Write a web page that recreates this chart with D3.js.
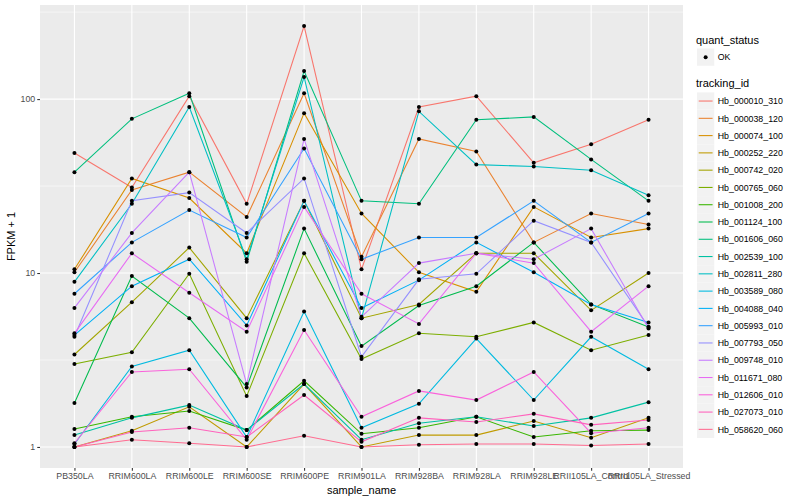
<!DOCTYPE html>
<html lang="en">
<head>
<meta charset="UTF-8">
<title>Expression plot</title>
<style>
  body { margin: 0; background: #fff; }
  svg { font-family: 'Liberation Sans', Arial, sans-serif; }
</style>
<script src="https://cdn.jsdelivr.net/npm/d3@7"></script>
</head>
<body>
<svg id="chart" width="800" height="500"></svg>
<script>
const samples = ["PB350LA", "RRIM600LA", "RRIM600LE", "RRIM600SE", "RRIM600PE", "RRIM901LA",
                 "RRIM928BA", "RRIM928LA", "RRIM928LE", "RRII105LA_Control", "RRII105LA_Stressed"];

const trackingIds = ["Hb_000010_310", "Hb_000038_120", "Hb_000074_100", "Hb_000252_220", "Hb_000742_020",
                     "Hb_000765_060", "Hb_001008_200", "Hb_001124_100", "Hb_001606_060", "Hb_002539_100",
                     "Hb_002811_280", "Hb_003589_080", "Hb_004088_040", "Hb_005993_010", "Hb_007793_050",
                     "Hb_009748_010", "Hb_011671_080", "Hb_012606_010", "Hb_027073_010", "Hb_058620_060"];

// ggplot hue palette, 20 levels
const colors = ["#F8766D", "#EA8331", "#D89000", "#C09B00", "#A3A500", "#7CAE00", "#39B600", "#00BB4E",
                "#00BF7D", "#00C1A3", "#00BFC4", "#00BAE0", "#00B0F6", "#35A2FF", "#9590FF", "#C77CFF",
                "#E76BF3", "#FA62DB", "#FF62BC", "#FF6C91"];

const yTicks = [1, 10, 100];

// FPKM per gene, one value per sample (plotted as FPKM + 1)
const hb000010_310 = [48, 30, 103, 24, 262, 9.5, 89, 103, 42, 54, 75];
const hb000038_120 = [9.1, 29, 37, 20, 107, 11.4, 58, 49, 14, 21, 18];
const hb000074_100 = [9.5, 34, 26, 12, 82, 21, 9.1, 6.8, 23, 15, 17];
const hb000252_220 = [0, 0.24, 0.7, 0, 1.3, 0, 0.17, 0.17, 0.41, 0.13, 0.47];
const hb000742_020 = [2.4, 5.8, 13, 4.5, 25, 4.5, 5.6, 12, 12, 5.1, 9];
const hb000765_060 = [2.0, 2.5, 8.9, 0.96, 12, 2.2, 3.5, 3.3, 4.2, 2.6, 3.4];
const hb001008_200 = [0.27, 0.49, 0.61, 0.25, 1.4, 0.19, 0.29, 0.49, 0.14, 0.24, 0.25];
const hb001124_100 = [0.79, 8.6, 4.5, 1.2, 17, 2.8, 5.5, 7.4, 14, 5.6, 3.9];
const hb001606_060 = [37, 76, 107, 10.6, 144, 25, 24, 75, 78, 44, 25];
const hb002539_100 = [0.17, 0.47, 0.74, 0.25, 1.3, 0.1, 0.37, 0.49, 0.32, 0.47, 0.81];
const hb002811_280 = [7.9, 24, 89, 11, 133, 4.5, 84, 41, 40, 38, 27];
const hb003589_080 = [0.04, 1.9, 2.6, 0.14, 5.0, 0.29, 0.77, 3.2, 0.86, 3.3, 1.8];
const hb004088_040 = [3.4, 7.4, 11, 4.0, 25, 5.3, 8.1, 14, 9.1, 5.6, 4.2];
const hb005993_010 = [6.6, 14, 22, 15, 51, 11, 15, 15, 25, 14, 21];
const hb007793_050 = [3.3, 25, 28, 16, 34, 2.3, 8.2, 8.9, 19, 14, 3.9];
const hb009748_010 = [5.3, 16, 37, 1.3, 58, 4.6, 10.4, 12, 11, 17, 3.8];
const hb011671_080 = [3.5, 12, 6.7, 3.6, 23, 6.6, 4.1, 12, 10.4, 3.6, 7.4];
const hb012606_010 = [0.05, 1.7, 1.8, 0.1, 3.7, 0.49, 1.1, 0.86, 1.7, 0.2, 0.29];
const hb027073_010 = [0, 0.22, 0.29, 0.14, 0.99, 0.07, 0.47, 0.39, 0.55, 0.34, 0.43];
const hb058620_060 = [0, 0.1, 0.05, 0, 0.16, 0, 0.03, 0.04, 0.04, 0.02, 0.04];

const fpkm = [hb000010_310, hb000038_120, hb000074_100, hb000252_220, hb000742_020, hb000765_060,
              hb001008_200, hb001124_100, hb001606_060, hb002539_100, hb002811_280, hb003589_080,
              hb004088_040, hb005993_010, hb007793_050, hb009748_010, hb011671_080, hb012606_010,
              hb027073_010, hb058620_060];

const series = trackingIds.map((id, i) => ({
    id: id,
    color: colors[i],
    values: fpkm[i].map((v, j) => ({ sample: samples[j], y: v + 1 }))
}));

const svg = d3.select("#chart");
const panel = { left: 40, right: 683, top: 5, bottom: 468 };

const x = d3.scalePoint()
    .domain(samples)
    .range([panel.left, panel.right])
    .padding(0.6);

// log10 scale with ggplot's 5% expansion in transformed space
const allY = series.flatMap(s => s.values.map(d => d.y));
const lo = Math.log10(d3.min(allY)), hi = Math.log10(d3.max(allY));
const pad = (hi - lo) * 0.05;
const y = d3.scaleLog()
    .domain([Math.pow(10, lo - pad), Math.pow(10, hi + pad)])
    .range([panel.bottom, panel.top]);

// panel background and grid
svg.append("rect")
    .attr("x", panel.left).attr("y", panel.top)
    .attr("width", panel.right - panel.left).attr("height", panel.bottom - panel.top)
    .attr("fill", "#EBEBEB");

const minorTicks = [Math.pow(10, 0.5), Math.pow(10, 1.5), Math.pow(10, 2.5)];
svg.append("g").selectAll("line")
    .data(minorTicks.filter(t => t > y.domain()[0] && t < y.domain()[1]))
    .enter().append("line")
    .attr("x1", panel.left).attr("x2", panel.right)
    .attr("y1", d => y(d)).attr("y2", d => y(d))
    .attr("stroke", "#fff").attr("stroke-width", 0.55);

svg.append("g").selectAll("line")
    .data(yTicks)
    .enter().append("line")
    .attr("x1", panel.left).attr("x2", panel.right)
    .attr("y1", d => y(d)).attr("y2", d => y(d))
    .attr("stroke", "#fff").attr("stroke-width", 1.1);

svg.append("g").selectAll("line")
    .data(samples)
    .enter().append("line")
    .attr("x1", d => x(d)).attr("x2", d => x(d))
    .attr("y1", panel.top).attr("y2", panel.bottom)
    .attr("stroke", "#fff").attr("stroke-width", 1.1);

// lines
const line = d3.line()
    .x(d => x(d.sample))
    .y(d => y(d.y));

svg.append("g").selectAll("path")
    .data(series)
    .enter().append("path")
    .attr("d", d => line(d.values))
    .attr("fill", "none")
    .attr("stroke", d => d.color)
    .attr("stroke-width", 1.07);

// points
svg.append("g").selectAll("circle")
    .data(series.flatMap(s => s.values))
    .enter().append("circle")
    .attr("cx", d => x(d.sample))
    .attr("cy", d => y(d.y))
    .attr("r", 2)
    .attr("fill", "#000");

// axes
const xAxis = svg.append("g")
    .attr("transform", "translate(0," + panel.bottom + ")")
    .call(d3.axisBottom(x).tickSize(2.75).tickPadding(2));
const yAxis = svg.append("g")
    .attr("transform", "translate(" + panel.left + ",0)")
    .call(d3.axisLeft(y).tickValues(yTicks).tickFormat(d3.format("d")).tickSize(2.75).tickPadding(2));

[xAxis, yAxis].forEach(ax => {
    ax.select(".domain").remove();
    ax.selectAll(".tick line").attr("stroke", "#333333").attr("stroke-width", 1.07);
    ax.selectAll(".tick text")
        .attr("fill", "#4D4D4D")
        .style("font-size", "8.8px")
        .style("font-family", "'Liberation Sans', Arial, sans-serif");
});

svg.append("text")
    .attr("x", (panel.left + panel.right) / 2)
    .attr("y", 494)
    .attr("text-anchor", "middle")
    .style("font-size", "11px")
    .text("sample_name");

svg.append("text")
    .attr("transform", "translate(15," + (panel.top + panel.bottom) / 2 + ") rotate(-90)")
    .attr("text-anchor", "middle")
    .style("font-size", "11px")
    .text("FPKM + 1");

// legends
const legX = 697, keySize = 17.28;
const leg = svg.append("g");

leg.append("text").attr("x", legX - 1).attr("y", 44)
    .style("font-size", "11px").text("quant_status");
leg.append("rect").attr("x", legX).attr("y", 48.5)
    .attr("width", keySize).attr("height", keySize).attr("fill", "#F2F2F2");
leg.append("circle").attr("cx", legX + keySize / 2).attr("cy", 48.5 + keySize / 2)
    .attr("r", 2).attr("fill", "#000");
leg.append("text").attr("x", legX + keySize + 3.5).attr("y", 48.5 + keySize / 2 + 3.2)
    .style("font-size", "8.8px").text("OK");

leg.append("text").attr("x", legX - 1).attr("y", 87)
    .style("font-size", "11px").text("tracking_id");

const keys = leg.selectAll("g.key")
    .data(series)
    .enter().append("g")
    .attr("class", "key")
    .attr("transform", (d, i) => "translate(" + legX + "," + (92.4 + i * keySize) + ")");

keys.append("rect")
    .attr("width", keySize).attr("height", keySize).attr("fill", "#F2F2F2");
keys.append("line")
    .attr("x1", 1.7).attr("x2", keySize - 1.7)
    .attr("y1", keySize / 2).attr("y2", keySize / 2)
    .attr("stroke", d => d.color).attr("stroke-width", 1.07);
keys.append("text")
    .attr("x", keySize + 3.5).attr("y", keySize / 2 + 3.2)
    .style("font-size", "8.8px")
    .text(d => d.id);
</script>
</body>
</html>
